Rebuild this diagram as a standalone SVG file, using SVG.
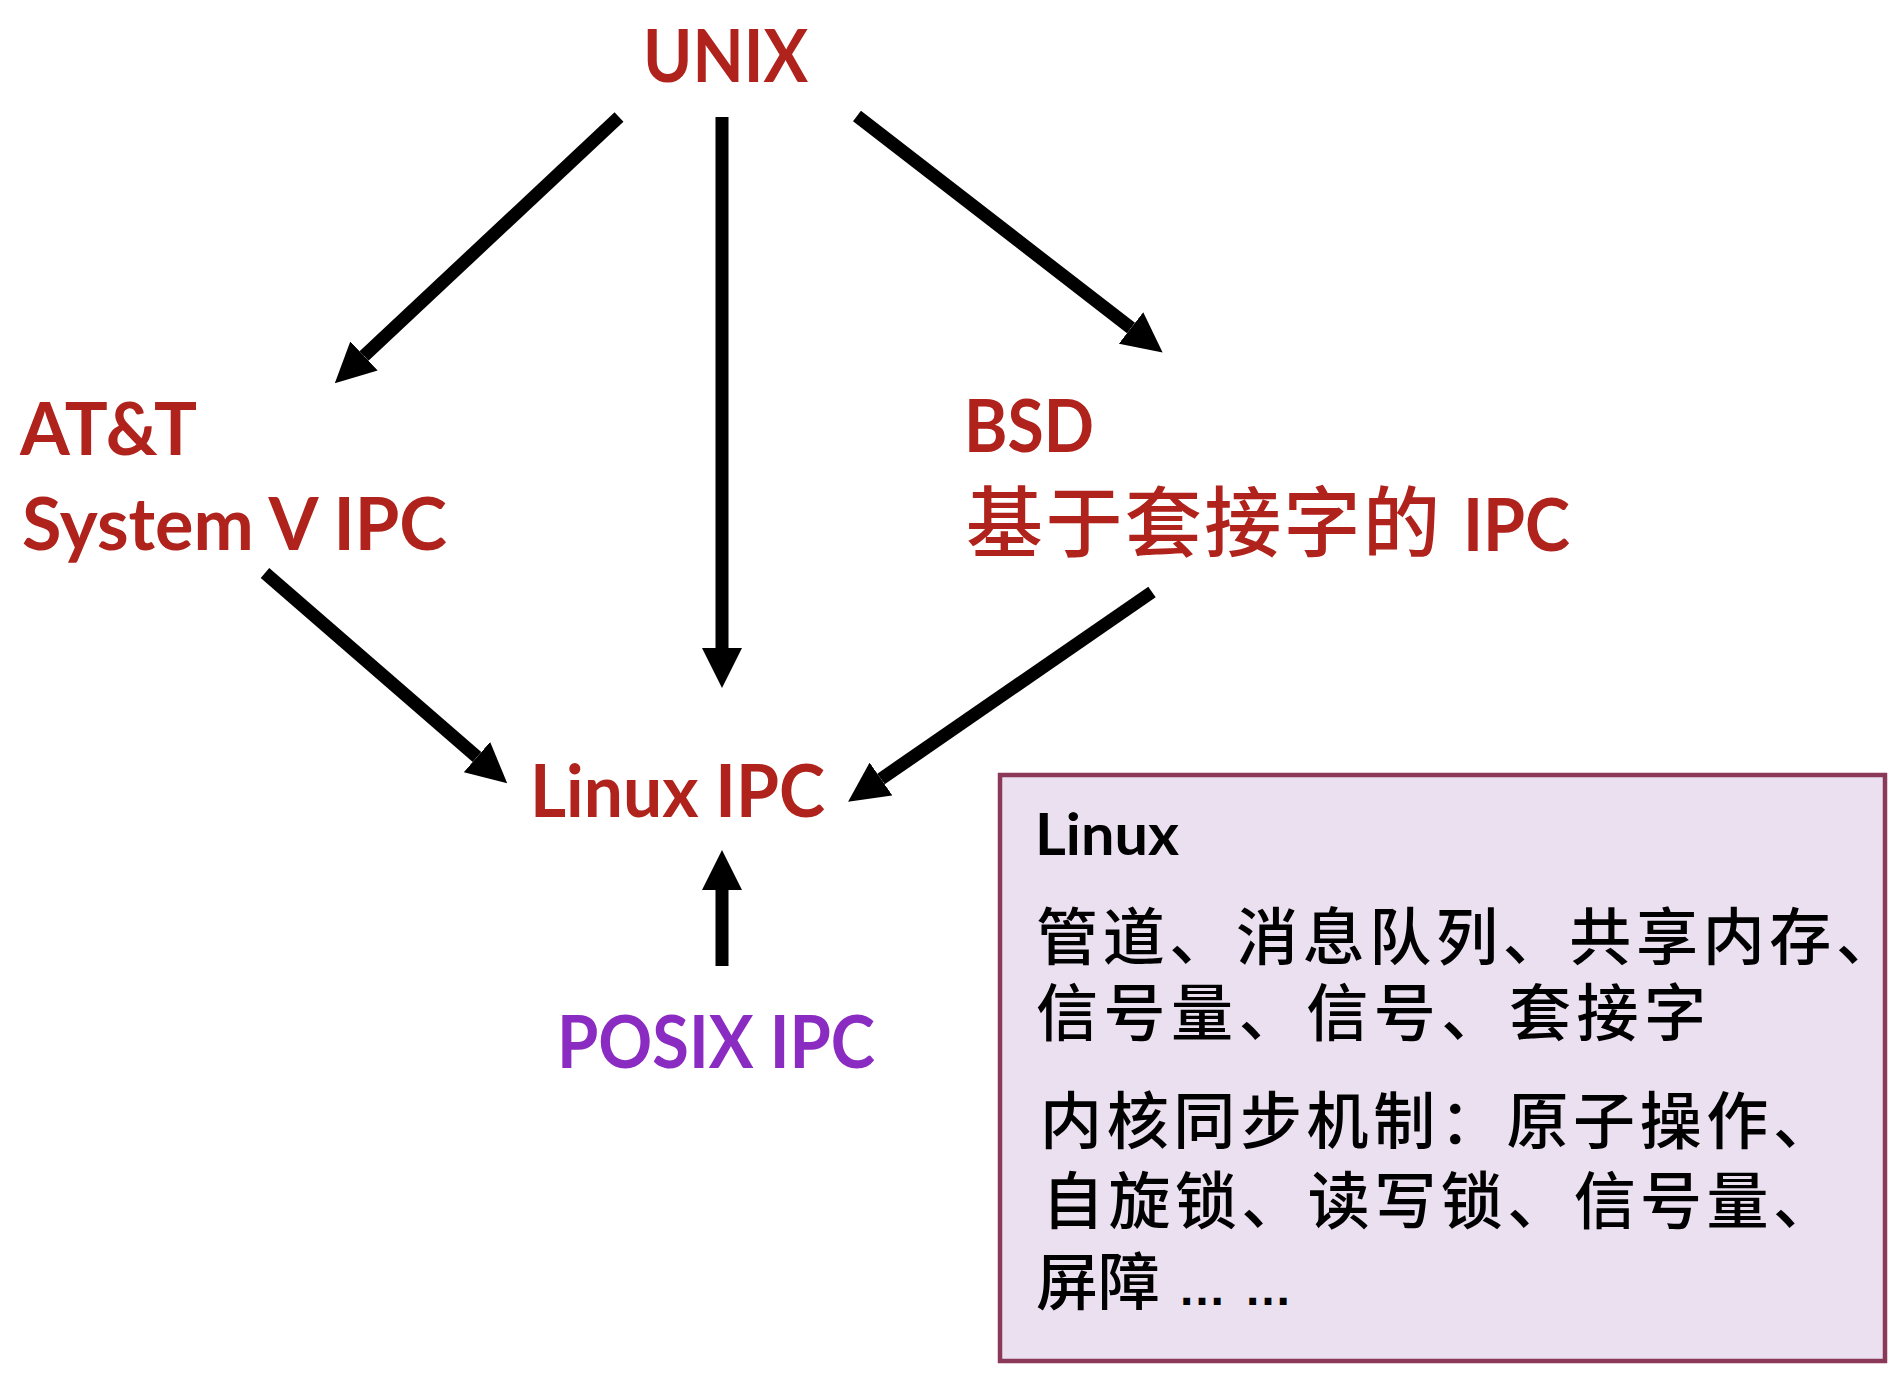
<svg xmlns="http://www.w3.org/2000/svg" width="1896" height="1378" viewBox="0 0 1896 1378">
<style>
.lbl{font-family:"Lato","Liberation Sans",sans-serif;font-weight:700;fill:#B0221C}
.posix{fill:#8A2BC2}
.cjk{font-family:"Noto Sans CJK SC",sans-serif}
.box{fill:#EBE0F0;stroke:#8A3A58;stroke-width:4.5}
.boxtxt{font-family:"Noto Sans CJK SC",sans-serif;font-size:62px;font-weight:500;fill:#000}
.conn line{stroke:#000;stroke-width:13;fill:none;marker-end:url(#ah)}
</style>
<defs>
<marker id="ah" markerUnits="userSpaceOnUse" viewBox="0 -20 40 40" markerWidth="40" markerHeight="40" refX="0" refY="0" orient="auto">
<path d="M0,-20 L40,0 L0,20 Z" fill="#000"/>
</marker>
</defs>
<rect width="1896" height="1378" fill="#fff"/>
<g id="connectors" class="conn">
<line x1="619" y1="117" x2="364" y2="356"/>
<line x1="722" y1="117" x2="722" y2="648"/>
<line x1="857" y1="116" x2="1131" y2="328"/>
<line x1="265" y1="573" x2="477" y2="757"/>
<line x1="1152" y1="592" x2="881" y2="779"/>
<line x1="722" y1="966" x2="722" y2="890"/>
</g>
<g id="unix"><text class="lbl" x="643" y="82" font-size="73" textLength="165" lengthAdjust="spacingAndGlyphs">UNIX</text></g>
<g id="att">
<text class="lbl" x="20" y="455" font-size="73" textLength="177" lengthAdjust="spacingAndGlyphs">AT&amp;T</text>
<text class="lbl" x="22" y="550" font-size="73" textLength="425" lengthAdjust="spacingAndGlyphs">System V IPC</text>
</g>
<g id="bsd">
<text class="lbl" x="964" y="452" font-size="73" textLength="130" lengthAdjust="spacingAndGlyphs">BSD</text>
<text class="lbl" y="551" font-size="73"><tspan class="cjk" x="966" font-size="77" font-weight="500" textLength="474" lengthAdjust="spacing">基于套接字的</tspan><tspan x="1463" textLength="107" lengthAdjust="spacingAndGlyphs">IPC</tspan></text>
</g>
<g id="linux-ipc"><text class="lbl" x="530" y="817" font-size="73" textLength="295" lengthAdjust="spacingAndGlyphs">Linux IPC</text></g>
<g id="posix"><text class="lbl posix" x="557" y="1068" font-size="73" textLength="318" lengthAdjust="spacingAndGlyphs">POSIX IPC</text></g>
<g id="linux-box">
<rect class="box" x="1000" y="775" width="885" height="586"/>
<text x="1035" y="855" font-family="Lato,'Liberation Sans',sans-serif" font-weight="700" font-size="58" fill="#000" textLength="144" lengthAdjust="spacingAndGlyphs">Linux</text>
<text class="boxtxt" x="1036" y="960" textLength="862" lengthAdjust="spacing">管道、消息队列、共享内存、</text>
<text class="boxtxt" x="1036" y="1036" textLength="670" lengthAdjust="spacing">信号量、信号、套接字</text>
<text class="boxtxt" x="1040" y="1144" textLength="795" lengthAdjust="spacing">内核同步机制：原子操作、</text>
<text class="boxtxt" x="1042" y="1224" textLength="793" lengthAdjust="spacing">自旋锁、读写锁、信号量、</text>
<text class="boxtxt" x="1036" y="1305">屏障<tspan x="1178" font-family="'Liberation Sans',sans-serif" font-weight="700" font-size="48">…</tspan><tspan x="1244" font-family="'Liberation Sans',sans-serif" font-weight="700" font-size="48">…</tspan></text>
</g>
</svg>
